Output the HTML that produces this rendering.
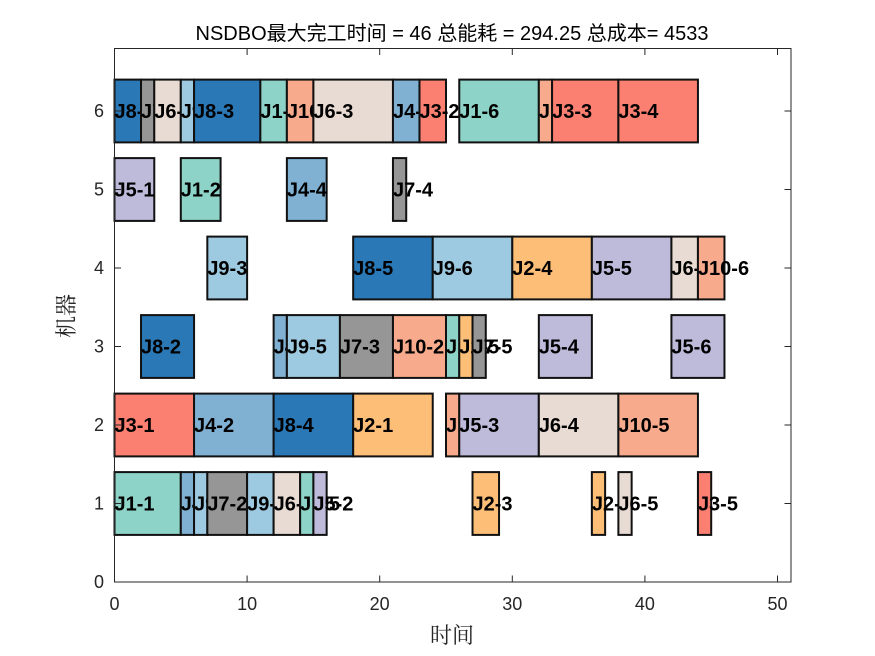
<!DOCTYPE html>
<html><head><meta charset="utf-8"><style>
html,body{margin:0;padding:0;background:#fff;}
svg{display:block;}
.t{font-family:"Liberation Sans",Arial,sans-serif;font-weight:bold;font-size:20px;fill:#000;}
.k{font-family:"Liberation Sans",Arial,sans-serif;font-size:18px;fill:#262626;}
</style></head><body>
<svg id="s" width="875" height="656" xmlns="http://www.w3.org/2000/svg">
<rect width="875" height="656" fill="#fff"/>
<g id="bars"></g>
<g stroke="#262626" stroke-width="1" fill="none">
<rect x="114.5" y="48.5" width="676.5" height="533.5"/>
</g>
<g id="ticks" stroke="#262626" stroke-width="1"></g>
<text x="452" y="40" text-anchor="middle" font-family="'Liberation Sans','Noto Sans CJK SC',sans-serif" font-size="20" fill="#000">NSDBO最大完工时间 = 46 总能耗 = 294.25 总成本= 4533</text>
<text x="452" y="643" text-anchor="middle" font-family="'Noto Serif CJK SC','Noto Sans CJK SC',serif" font-size="22" fill="#262626">时间</text>
<text transform="translate(74,316) rotate(-90)" text-anchor="middle" font-family="'Noto Serif CJK SC','Noto Sans CJK SC',serif" font-size="22" fill="#262626">机器</text>
</svg>
<script>
var X0=114.5,SX=13.26,Y0=582,SY=78.5;
var C={J1:'#8dd3c7',J2:'#fdbf78',J3:'#fb8072',J4:'#80b1d3',J5:'#bebada',J6:'#e8dbd3',J7:'#969696',J8:'#2a78b5',J9:'#9ecae1',J10:'#f8ab8c'};
var D=[
[6,0,2,'J8-1'],[6,2,3,'J7-1'],[6,3,5,'J6-1'],[6,5,6,'J9-1'],[6,6,11,'J8-3'],[6,11,13,'J1-3'],[6,13,15,'J10-1'],[6,15,21,'J6-3'],[6,21,23,'J4-3'],[6,23,25,'J3-2'],[6,26,32,'J1-6'],[6,32,33,'J10-3'],[6,33,38,'J3-3'],[6,38,44,'J3-4'],
[5,0,3,'J5-1'],[5,5,8,'J1-2'],[5,13,16,'J4-4'],[5,21,22,'J7-4'],
[4,7,10,'J9-3'],[4,18,24,'J8-5'],[4,24,30,'J9-6'],[4,30,36,'J2-4'],[4,36,42,'J5-5'],[4,42,44,'J6-6'],[4,44,46,'J10-6'],
[3,2,6,'J8-2'],[3,12,13,'J4-1'],[3,13,17,'J9-5'],[3,17,21,'J7-3'],[3,21,25,'J10-2'],[3,25,26,'J1-4'],[3,26,27,'J2-5'],[3,27,28,'J7-5'],[3,32,36,'J5-4'],[3,42,46,'J5-6'],
[2,0,6,'J3-1'],[2,6,12,'J4-2'],[2,12,18,'J8-4'],[2,18,24,'J2-1'],[2,25,26,'J10-4'],[2,26,32,'J5-3'],[2,32,38,'J6-4'],[2,38,44,'J10-5'],
[1,0,5,'J1-1'],[1,5,6,'J4-5'],[1,6,7,'J9-2'],[1,7,10,'J7-2'],[1,10,12,'J9-4'],[1,12,14,'J6-2'],[1,14,15,'J1-5'],[1,15,16,'J5-2'],[1,27,29,'J2-3'],[1,36,37,'J2-2'],[1,38,39,'J6-5'],[1,44,45,'J3-5']
];
var h='';
D.forEach(function(d){
 var x=X0+d[1]*SX,w=(d[2]-d[1])*SX,yc=Y0-d[0]*SY,j=d[3].split('-')[0];
 h+='<rect x="'+x+'" y="'+(yc-0.4*SY)+'" width="'+w+'" height="'+(0.8*SY)+'" fill="'+C[j]+'" stroke="#111" stroke-width="2"/>';
 h+='<text class="t" x="'+x+'" y="'+(yc+7)+'">'+d[3]+'</text>';
});
document.getElementById('bars').innerHTML=h;
var t='',lab='';
for(var i=0;i<=50;i+=10){var x=X0+i*SX;t+='<line x1="'+x+'" y1="582" x2="'+x+'" y2="575.5"/><line x1="'+x+'" y1="48.5" x2="'+x+'" y2="55"/>';lab+='<text class="k" x="'+x+'" y="610" text-anchor="middle">'+i+'</text>';}
for(var k=0;k<=6;k++){var y=Y0-k*SY;t+='<line x1="114.5" y1="'+y+'" x2="121" y2="'+y+'"/><line x1="791" y1="'+y+'" x2="784.5" y2="'+y+'"/>';lab+='<text class="k" x="104" y="'+(y+6)+'" text-anchor="end">'+k+'</text>';}
document.getElementById('ticks').innerHTML=t;
document.getElementById('s').insertAdjacentHTML('beforeend',lab);
</script>
</body></html>
